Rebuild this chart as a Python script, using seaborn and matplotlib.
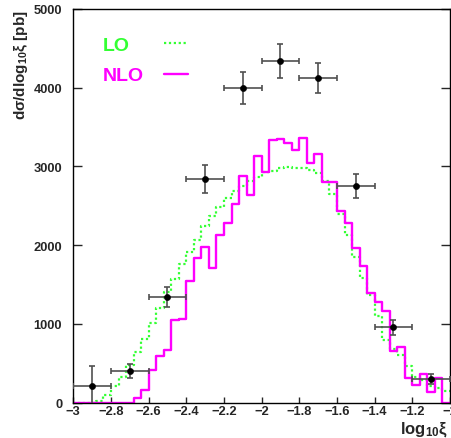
import numpy as np
import pandas as pd
import matplotlib
matplotlib.use("Agg")
import matplotlib.pyplot as plt
import matplotlib.transforms as mtransforms
import seaborn as sns

# ---- data ----
bin_edges_range = (-3.0, -1.0)
n_bins = 50
lo_values = [0, 0, 0, 25, 95, 214, 320, 476, 638, 807,
             1010, 1197, 1400, 1569, 1760, 1916, 2060, 2247, 2374, 2480,
             2595, 2684, 2755, 2818, 2869, 2925, 2945, 2975, 2988, 2975,
             2975, 2960, 2912, 2820, 2650, 2400, 2130, 1850, 1580, 1360,
             1100, 800, 680, 600, 470, 320, 280, 210, 190, 150]
nlo_values = [0, 0, 0, 0, 0, 0, 0, 0, 57, 157,
              417, 587, 665, 1050, 1065, 1540, 1830, 1972, 1715, 2130,
              2276, 2522, 2875, 2641, 3136, 2925, 3338, 3348, 3300, 3210,
              3357, 3040, 3155, 2805, 2805, 2427, 2281, 1960, 1740, 1391,
              1277, 1160, 650, 708, 307, 222, 368, 137, 315, 0]
data_x = [-2.9, -2.7, -2.5, -2.3, -2.1, -1.9, -1.7, -1.5, -1.3, -1.1]
data_y = [215, 396, 1345, 2840, 3996, 4339, 4123, 2755, 955, 300]
data_yerr = [245, 90, 127, 180, 200, 220, 195, 152, 97, 68]
data_xerr = [0.1] * 10
x_ticks = [-3.0, -2.8, -2.6, -2.4, -2.2, -2.0, -1.8, -1.6, -1.4, -1.2, -1.0]
x_ticklabels = ['\u22123', '\u22122.8', '\u22122.6', '\u22122.4', '\u22122.2', '\u22122',
                '\u22121.8', '\u22121.6', '\u22121.4', '\u22121.2', '\u22121']
y_ticks = [0, 1000, 2000, 3000, 4000, 5000]
y_ticklabels = ['0', '1000', '2000', '3000', '4000', '5000']
legend_labels = ['LO', 'NLO']

sns.set_style("ticks")
plt.rcParams['font.family'] = ['Liberation Sans', 'DejaVu Sans']
plt.rcParams['mathtext.fontset'] = 'custom'
plt.rcParams['mathtext.rm'] = 'Liberation Sans'
plt.rcParams['mathtext.default'] = 'regular'

width = (bin_edges_range[1] - bin_edges_range[0]) / n_bins
centers = bin_edges_range[0] + width * (np.arange(n_bins) + 0.5)
df = pd.DataFrame({'x': centers, 'lo': lo_values, 'nlo': nlo_values})

fig = plt.figure(figsize=(4.51, 4.39), dpi=100)
ax = fig.add_axes([73.3 / 451, 1 - 403.5 / 439, 376.7 / 451, 393.5 / 439])

sns.histplot(data=df, x='x', weights='lo', bins=n_bins, binrange=bin_edges_range,
             element='step', fill=False, color='#33ff33', linewidth=1.6,
             linestyle=(0, (1, 1.2)), ax=ax, label=legend_labels[0])
sns.histplot(data=df, x='x', weights='nlo', bins=n_bins, binrange=bin_edges_range,
             element='step', fill=False, color='#ff00ff', linewidth=1.7,
             ax=ax, label=legend_labels[1])

ax.errorbar(data_x, data_y, xerr=data_xerr, yerr=data_yerr, fmt='none',
            ecolor='#505050', elinewidth=1.2, capsize=2.5, capthick=1.2, zorder=4)
sns.scatterplot(x=data_x, y=data_y, color='black', s=20, edgecolor='black', ax=ax, zorder=5)

ax.set_xlim(-3, -1)
ax.set_ylim(0, 5000)
ax.set_xticks(x_ticks)
ax.set_xticklabels(x_ticklabels)
ax.set_yticks(y_ticks)
ax.set_yticklabels(y_ticklabels)
ax.tick_params(axis='x', direction='in', length=4.5, width=1, pad=2, labelsize=9.3)
ax.tick_params(axis='y', direction='in', length=6.5, width=1, pad=8, labelsize=9.3, right=True)
for lab in ax.get_xticklabels() + ax.get_yticklabels():
    lab.set_fontweight('bold')
for sp in ax.spines.values():
    sp.set_visible(True)
    sp.set_linewidth(1.0)
    sp.set_color('black')

ax.set_xlabel('')
ax.set_ylabel('')
fig.text(448 / 451, 1 - 430 / 439, 'log$_{10}$\u03be', ha='right', va='center',
         fontsize=12, fontweight='bold')
fig.text(21 / 451, 1 - 10 / 439, 'd\u03c3/dlog$_{10}$\u03be [pb]', rotation=90,
         ha='center', va='top', fontsize=11, fontweight='bold')

leg = ax.legend(loc='upper left', bbox_to_anchor=(0.079, 0.930), frameon=False,
                markerfirst=False, handlelength=1.25, handletextpad=1.0,
                labelspacing=0.65, borderaxespad=0, borderpad=0,
                prop={'weight': 'bold', 'size': 14})
for txt, col in zip(leg.get_texts(), ['#33ff33', '#ff00ff']):
    txt.set_color(col)

# left-align the legend texts (entries are right-aligned when text comes first)
fig.canvas.draw()
renderer = fig.canvas.get_renderer()
texts = leg.get_texts()
widths = [t.get_window_extent(renderer).width for t in texts]
wmax = max(widths)
for t, w in zip(texts, widths):
    dx = wmax - w
    if dx > 0:
        t.set_transform(t.get_transform() + mtransforms.Affine2D().translate(-dx, 0))

fig.savefig('out.png', dpi=100)
